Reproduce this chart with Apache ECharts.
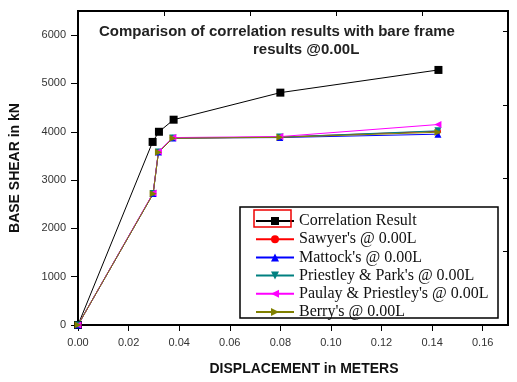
<!DOCTYPE html>
<html>
<head>
<meta charset="utf-8">
<script src="https://cdn.jsdelivr.net/npm/echarts@6/dist/echarts.min.js"></script>
<style>
  html, body { margin: 0; padding: 0; background: #fff; }
  #chart { width: 517px; height: 382px; }
</style>
</head>
<body>
<div id="chart"></div>
<script>
// displacement (m) and base shear (kN)
const dispCorr = [0, 0.0295, 0.032, 0.0378, 0.080, 0.1425];
const shearCorr = [0, 3790, 4000, 4250, 4810, 5280];

const dispModels = [0, 0.0297, 0.0318, 0.0375, 0.0798, 0.1423];
const sawyer = [0, 2720, 3580, 3870, 3890, 4010];
const mattock = [0, 2720, 3580, 3870, 3880, 3950];
const priestleyPark = [0, 2720, 3580, 3870, 3890, 4020];
const paulayPriestley = [0, 2730, 3590, 3880, 3900, 4150];
const berry = [0, 2715, 3575, 3865, 3885, 3990];

const seriesNames = [
  'Correlation Result',
  "Sawyer's @ 0.00L",
  "Mattock's @ 0.00L",
  "Priestley & Park's @ 0.00L",
  "Paulay & Priestley's @ 0.00L",
  "Berry's @ 0.00L"
];

const pairs = (xs, ys) => xs.map((x, i) => [x, ys[i]]);

const chart = echarts.init(document.getElementById('chart'));

function line(name, data, color, symbol, rotate, size) {
  return {
    name: name,
    type: 'line',
    data: data,
    symbol: symbol,
    symbolSize: size,
    symbolRotate: rotate,
    itemStyle: { color: color },
    lineStyle: { color: color, width: 1 },
    animation: false
  };
}

const titleFont = { fontFamily: 'Liberation Sans', fontWeight: 'bold', fontSize: 15, color: '#222' };

// plain frame axes on top and right, ticks only
function frameAxis(position, min, max) {
  return {
    type: 'value', position: position, min: min, max: max, interval: 1,
    axisLine: { onZero: false, lineStyle: { color: '#000', width: 2 } },
    axisTick: { inside: true, length: 5, lineStyle: { color: '#000' } },
    axisLabel: { show: false }, splitLine: { show: false }
  };
}

const option = {
  backgroundColor: '#fff',
  title: [
    { text: 'Comparison of correlation results with bare frame', left: 99, top: 24, padding: 0, textStyle: titleFont },
    { text: 'results @0.00L', left: 253, top: 42, padding: 0, textStyle: titleFont }
  ],
  grid: { left: 76, right: 9, top: 11, bottom: 57, show: true, borderColor: '#000', borderWidth: 2 },
  legend: {
    orient: 'vertical',
    left: 250, top: 211,
    padding: [2, 5],
    itemWidth: 38, itemHeight: 10, itemGap: 2.2,
    data: seriesNames,
    textStyle: { fontFamily: 'Liberation Serif', fontSize: 16, color: '#111' }
  },
  graphic: [
    { type: 'rect', shape: { x: 240, y: 207, width: 258, height: 111 },
      style: { fill: 'none', stroke: '#000', lineWidth: 1.5 }, z: 100 },
    { type: 'rect', shape: { x: 254, y: 210, width: 37, height: 17 },
      style: { fill: 'none', stroke: '#e00', lineWidth: 1.5 }, z: 100 }
  ],
  xAxis: [
    {
      type: 'value', min: 0, max: 0.17, interval: 0.02,
      name: 'DISPLACEMENT in METERS', nameLocation: 'middle', nameGap: 37,
      nameTextStyle: { fontFamily: 'Liberation Sans', fontWeight: 'bold', fontSize: 14, color: '#111', padding: [0, 0, 0, 22] },
      axisLine: { onZero: false, lineStyle: { color: '#000', width: 2 } },
      axisTick: { length: 6, lineStyle: { color: '#000' } },
      splitLine: { show: false },
      axisLabel: { showMaxLabel: false, color: '#333', fontFamily: 'Liberation Sans', fontSize: 11, margin: 12,
        formatter: v => v.toFixed(2) }
    },
    frameAxis('top', 0, 5)
  ],
  yAxis: [
    {
      type: 'value', min: 0, max: 6500, interval: 1000,
      name: 'BASE SHEAR in kN', nameLocation: 'middle', nameGap: 56,
      nameTextStyle: { fontFamily: 'Liberation Sans', fontWeight: 'bold', fontSize: 14, color: '#111' },
      axisLine: { onZero: false, lineStyle: { color: '#000', width: 2 } },
      axisTick: { length: 7, lineStyle: { color: '#000' } },
      splitLine: { show: false },
      axisLabel: { showMaxLabel: false, color: '#333', fontFamily: 'Liberation Sans', fontSize: 11, margin: 12,
        formatter: v => String(v) }
    },
    frameAxis('right', 0.427, 4.71)
  ],
  series: [
    line(seriesNames[0], pairs(dispCorr, shearCorr), '#000000', 'rect', 0, 8),
    line(seriesNames[1], pairs(dispModels, sawyer), '#ff0000', 'circle', 0, 6),
    line(seriesNames[2], pairs(dispModels, mattock), '#0000ff', 'triangle', 0, 7),
    line(seriesNames[3], pairs(dispModels, priestleyPark), '#008080', 'triangle', 180, 7),
    line(seriesNames[4], pairs(dispModels, paulayPriestley), '#ff00ff', 'triangle', 90, 7),
    line(seriesNames[5], pairs(dispModels, berry), '#808000', 'triangle', -90, 7)
  ]
};

chart.setOption(option);
</script>
</body>
</html>
